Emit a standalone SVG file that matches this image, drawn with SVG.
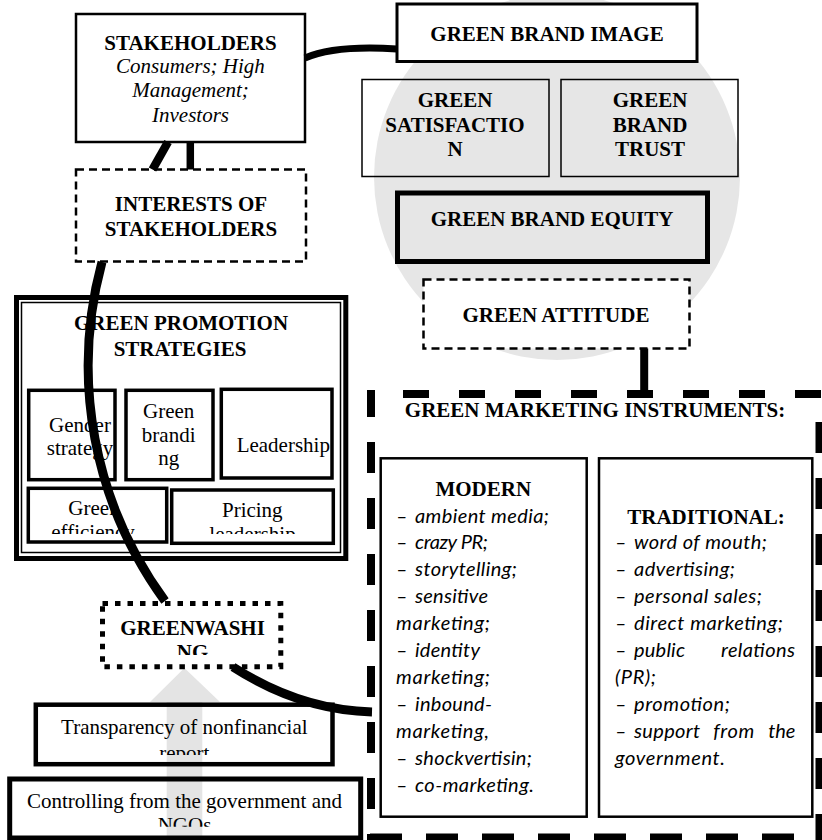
<svg xmlns="http://www.w3.org/2000/svg" width="822" height="840" viewBox="0 0 822 840">
<style>
.bx{fill:#fff;stroke:#000}
.nf{fill:none;stroke:#000}
.t{font-family:"Liberation Serif","Times New Roman",serif;font-size:21px;text-anchor:middle;fill:#000}
.b{font-weight:bold}
.i{font-style:italic}
.l{font-family:Lato,"Open Sans",sans-serif;font-style:italic;font-size:20px;fill:#000}
.con{fill:none;stroke:#000}
.dash{stroke-dasharray:8 5}
.big{fill:none;stroke:#000;stroke-width:8}
</style>
<defs>
<clipPath id="cpEff"><rect x="28" y="480" width="140" height="54"/></clipPath>
<clipPath id="cpLead"><rect x="171" y="480" width="163" height="54"/></clipPath>
<clipPath id="cpGW"><rect x="100" y="600" width="185" height="55"/></clipPath>
<clipPath id="cpRep"><rect x="35" y="700" width="300" height="55"/></clipPath>
<clipPath id="cpNGO"><rect x="9" y="775" width="355" height="51.7"/></clipPath>
</defs>
<rect width="822" height="840" fill="#fff"/>
<circle cx="557" cy="177" r="183" fill="#e6e6e6"/>
<polygon points="166.7,840 166.7,702 150,702 184.4,668 220,702 202.3,702 202.3,840" fill="#e4e4e4"/>

<g id="stakeholders">
<rect class="bx" x="76" y="14" width="229" height="128" stroke-width="2.5"/>
<text class="t b" x="190.5" y="49.5">STAKEHOLDERS</text>
<text class="t i" x="190.5" y="73">Consumers; High</text>
<text class="t i" x="190.5" y="97">Management;</text>
<text class="t i" x="190.5" y="122">Investors</text>
</g>
<g id="interests">
<rect class="bx dash" x="76" y="169.5" width="230" height="92" stroke-width="2.5"/>
<text class="t b" x="191" y="210.5">INTERESTS OF</text>
<text class="t b" x="191" y="235.5">STAKEHOLDERS</text>
</g>
<g id="brand-image">
<rect class="bx" x="397" y="4" width="300" height="57.5" stroke-width="3"/>
<text class="t b" x="547" y="40.5">GREEN BRAND IMAGE</text>
</g>
<g id="satisfaction">
<rect class="nf" x="362" y="79.5" width="187" height="97" stroke-width="1.5"/>
<text class="t b" x="455" y="107.3">GREEN</text>
<text class="t b" x="455" y="131.7">SATISFACTIO</text>
<text class="t b" x="455" y="156">N</text>
</g>
<g id="trust">
<rect class="nf" x="561" y="79.5" width="177" height="97" stroke-width="1.5"/>
<text class="t b" x="650" y="107.3">GREEN</text>
<text class="t b" x="650" y="131.7">BRAND</text>
<text class="t b" x="650" y="156">TRUST</text>
</g>
<g id="equity">
<rect class="nf" x="397.5" y="193" width="310" height="68.5" stroke-width="5"/>
<text class="t b" x="552" y="225.7">GREEN BRAND EQUITY</text>
</g>
<g id="attitude">
<rect class="bx dash" x="423.5" y="279.5" width="266" height="69" stroke-width="2.5"/>
<text class="t b" x="556" y="321.7">GREEN ATTITUDE</text>
</g>
<g id="promotion">
<rect class="bx" x="16.5" y="297.5" width="329.3" height="261" stroke-width="5"/>
<rect class="nf" x="21.5" y="302.5" width="319" height="250" stroke-width="1.5"/>
<text class="t b" x="181" y="330">GREEN PROMOTION</text>
<text class="t b" x="180" y="356">STRATEGIES</text>
<g id="gender">
<rect class="nf" x="28.7" y="390.3" width="86.3" height="89.4" stroke-width="3.5"/>
<text class="t" x="80" y="431.7">Gender</text>
<text class="t" x="80" y="455">strategy</text>
</g>
<g id="branding">
<rect class="nf" x="126" y="390.3" width="87" height="89.4" stroke-width="3.5"/>
<text class="t" x="168.7" y="418.3">Green</text>
<text class="t" x="168.7" y="441.7">brandi</text>
<text class="t" x="168.7" y="465">ng</text>
</g>
<g id="leadership">
<rect class="nf" x="221.3" y="389.3" width="110.7" height="88.7" stroke-width="3.5"/>
<text class="t" x="283.3" y="451.7">Leadership</text>
</g>
<g id="efficiency">
<rect class="nf" x="28.3" y="488.3" width="138.4" height="53.7" stroke-width="3.5"/>
<text class="t" x="94" y="515">Green</text>
<text class="t" x="93" y="539" clip-path="url(#cpEff)">efficiency</text>
</g>
<g id="pricing">
<rect class="nf" x="171.7" y="490" width="161.6" height="53.3" stroke-width="3.5"/>
<text class="t" x="252.3" y="516.7">Pricing</text>
<text class="t" x="252.5" y="540.5" clip-path="url(#cpLead)">leadership</text>
</g>
</g>
<g id="greenwashing">
<rect class="bx" x="102.5" y="603.5" width="178.3" height="63.3" stroke-width="5" stroke-dasharray="5.5 7"/>
<text class="t b" x="192.5" y="635">GREENWASHI</text>
<text class="t b" x="192.5" y="659" clip-path="url(#cpGW)">NG</text>
</g>
<g id="transparency">
<rect class="nf" x="35.8" y="704.7" width="296.7" height="59.5" stroke-width="4.5"/>
<text class="t" x="184.3" y="734">Transparency of nonfinancial</text>
<text class="t" x="184.3" y="760" clip-path="url(#cpRep)">report</text>
</g>
<g id="controlling">
<rect class="nf" x="9.7" y="779" width="351" height="59" stroke-width="5"/>
<text class="t" x="184.5" y="808.3">Controlling from the government and</text>
<text class="t" x="184.5" y="832" clip-path="url(#cpNGO)">NGOs</text>
</g>
<g id="marketing">
<line class="big" x1="403" y1="394" x2="830" y2="394" stroke-dasharray="26 30"/>
<line class="big" x1="371" y1="390" x2="371" y2="845" stroke-dasharray="31 25" stroke-dashoffset="4"/>
<line class="big" x1="370" y1="837.5" x2="830" y2="837.5" stroke-dasharray="32 24"/>
<line class="big" x1="819.5" y1="422" x2="819.5" y2="845" stroke-dasharray="31 25"/>
<text class="t b" x="595" y="416.7">GREEN MARKETING INSTRUMENTS:</text>
<g id="modern">
<rect class="nf" x="380.7" y="458.3" width="206" height="358.4" stroke-width="2.5"/>
<text class="t b" x="483.3" y="496">MODERN</text>
<text class="l" x="396" y="522.5">–</text><text class="l" x="415" y="522.5" textLength="134">ambient media;</text>
<text class="l" x="396" y="549.4">–</text><text class="l" x="415" y="549.4" textLength="73">crazy PR;</text>
<text class="l" x="396" y="576.3">–</text><text class="l" x="415" y="576.3" textLength="102">storytelling;</text>
<text class="l" x="396" y="603.2">–</text><text class="l" x="415" y="603.2" textLength="73">sensitive</text>
<text class="l" x="396" y="630.1" textLength="94">marketing;</text>
<text class="l" x="396" y="657">–</text><text class="l" x="415" y="657" textLength="65">identity</text>
<text class="l" x="396" y="683.9" textLength="94">marketing;</text>
<text class="l" x="396" y="710.8">–</text><text class="l" x="415" y="710.8" textLength="77">inbound-</text>
<text class="l" x="396" y="737.7" textLength="93">marketing,</text>
<text class="l" x="396" y="764.6">–</text><text class="l" x="415" y="764.6" textLength="117">shockvertisin;</text>
<text class="l" x="396" y="791.5">–</text><text class="l" x="415" y="791.5" textLength="119">co-marketing.</text>
</g>
<g id="traditional">
<rect class="nf" x="599" y="458.3" width="213.3" height="358.4" stroke-width="2.5"/>
<text class="t b" x="706" y="523.5">TRADITIONAL:</text>
<text class="l" x="615" y="549.4">–</text><text class="l" x="634" y="549.4" textLength="133">word of mouth;</text>
<text class="l" x="615" y="576.3">–</text><text class="l" x="634" y="576.3" textLength="101">advertising;</text>
<text class="l" x="615" y="603.2">–</text><text class="l" x="634" y="603.2" textLength="128">personal sales;</text>
<text class="l" x="615" y="630.1">–</text><text class="l" x="634" y="630.1" textLength="149">direct marketing;</text>
<text class="l" x="615" y="657">–</text><text class="l" x="634" y="657" textLength="51">public</text><text class="l" x="721" y="657" textLength="74">relations</text>
<text class="l" x="615" y="683.9" textLength="41">(PR);</text>
<text class="l" x="615" y="710.8">–</text><text class="l" x="634" y="710.8" textLength="96">promotion;</text>
<text class="l" x="615" y="737.7">–</text><text class="l" x="634" y="737.7" textLength="66">support</text><text class="l" x="713.3" y="737.7" textLength="41">from</text><text class="l" x="768.3" y="737.7" textLength="27">the</text>
<text class="l" x="615" y="764.6" textLength="110">government.</text>
</g>
</g>
<g id="connectors">
<path class="con" d="M305,58 Q335,45 397,49" stroke-width="7"/>
<path class="con" d="M168,142 L152.5,169.5" stroke-width="8.5"/>
<path class="con" d="M190.3,142 L190.3,169.5" stroke-width="7.5"/>
<path class="con" d="M102,262 A398.5,398.5 0 0 0 165,601" stroke-width="9"/>
<path class="con" d="M233,667 Q300,710 372,712" stroke-width="9"/>
<path class="con" d="M644.2,348.5 L644.2,394" stroke-width="8"/>
</g>
</svg>
